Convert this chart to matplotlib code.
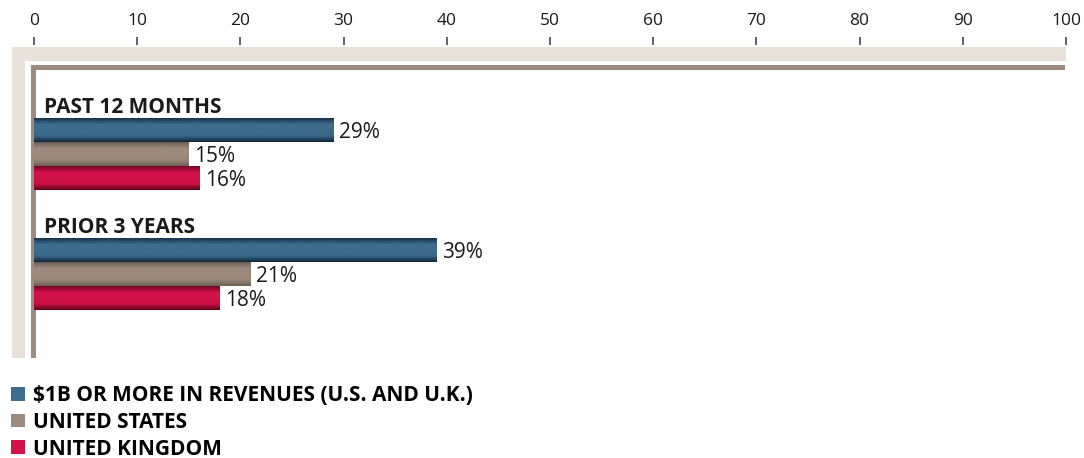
import numpy as np
import matplotlib
matplotlib.use("Agg")
import matplotlib.pyplot as plt
from matplotlib.patches import Rectangle, Patch
from matplotlib.colors import LinearSegmentedColormap

plt.rcParams["font.family"] = ["Open Sans", "DejaVu Sans"]

groups = ["PAST 12 MONTHS", "PRIOR 3 YEARS"]
series = ["$1B OR MORE IN REVENUES (U.S. AND U.K.)", "UNITED STATES", "UNITED KINGDOM"]
past_12 = [29, 15, 16]
prior_3 = [39, 21, 18]
xticks = [0, 10, 20, 30, 40, 50, 60, 70, 80, 90, 100]

colors = ["#3E6C8D", "#9C8B7E", "#D3124A"]
shades = [
    ["#15324A", "#3E6C8D", "#3E6C8D", "#3A6787", "#0E2638"],
    ["#6B5E54", "#9C8B7E", "#9C8B7E", "#978677", "#6E6055"],
    ["#6E0620", "#D3124A", "#D3124A", "#C80F44", "#5E0318"],
]
beige = "#E8E2DB"
taupe = "#9C8B7E"
text_col = "#1A1A1A"

W, H = 1084, 458
fig = plt.figure(figsize=(W / 100, H / 100), dpi=100)
fig.patch.set_facecolor("white")

# axes area in pixels: x 34..1066, y 45..358
ax = fig.add_axes([34 / W, 1 - 358 / H, (1066 - 34) / W, (358 - 45) / H])
ax.set_facecolor("none")

# frame decorations (pixel boxes)
def box(x0, y0, x1, y1, c):
    fig.add_artist(Rectangle((x0 / W, 1 - y1 / H), (x1 - x0) / W, (y1 - y0) / H,
                             transform=fig.transFigure, facecolor=c,
                             edgecolor="none", zorder=0))

box(12, 47, 1066, 61, beige)
box(12, 47, 25, 358, beige)

for gi, vals in enumerate([past_12, prior_3]):
    ys = [gi * 5 + i for i in range(len(vals))]
    bars = ax.barh(ys, vals, height=1.0, color=colors, edgecolor="none", zorder=2)
    for bar, shade, v in zip(bars, shades, vals):
        cmap = LinearSegmentedColormap.from_list("g", shade)
        grad = np.linspace(0, 1, 64).reshape(-1, 1)
        x0, y0 = bar.get_x(), bar.get_y()
        im = ax.imshow(grad, cmap=cmap, aspect="auto", interpolation="bilinear",
                       extent=(x0, x0 + bar.get_width(), y0 + bar.get_height(), y0),
                       origin="upper", zorder=3)
        im.set_clip_path(bar)
        ax.text(v + 0.55, bar.get_y() + bar.get_height() / 2 + 0.12, f"{v}%",
                va="center", ha="left", fontsize=15, color=text_col, zorder=4)
    ax.text(0.95, gi * 5 - 0.7, groups[gi], fontsize=15, fontweight="bold",
            color=text_col, va="baseline", ha="left")

ax.set_xlim(0, 100)
ax.set_ylim((358 - 130) / 24, (45 - 130) / 24)
ax.set_xticks(xticks)
ax.set_yticks([])
ax.xaxis.tick_top()
ax.tick_params(axis="x", direction="out", length=5.5, width=1.3, color="#555555",
               pad=6, labelsize=12.5, labelcolor=text_col)
for s in ax.spines.values():
    s.set_visible(False)

box(31, 65, 1065, 70, taupe)
box(31, 65, 36, 358, taupe)

handles = [Patch(facecolor=c, edgecolor="none") for c in colors]
fig.legend(handles, series, loc="upper left", bbox_to_anchor=(11 / W, 1 - 385 / H),
           frameon=False, prop={"weight": "bold", "size": 15},
           handlelength=0.65, handleheight=0.65, handletextpad=0.4,
           labelspacing=0.28, borderpad=0, borderaxespad=0)

fig.savefig("out.png", dpi=100)
